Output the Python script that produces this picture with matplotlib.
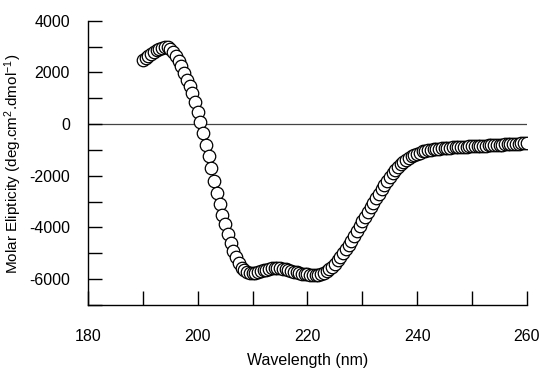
import numpy as np
import matplotlib
matplotlib.use("Agg")
import matplotlib.pyplot as plt
from matplotlib.ticker import MultipleLocator

plt.rcParams["font.family"] = ["Liberation Sans", "DejaVu Sans"]
plt.rcParams["axes.unicode_minus"] = False
plt.rcParams["mathtext.default"] = "regular"

# CD spectrum, 0.5 nm steps from 190 to 260 nm
wavelength = np.arange(190.0, 260.01, 0.5)
ellipticity = [
    2480, 2560, 2640, 2710, 2780, 2850, 2910, 2960, 2990, 2970,          # 190.0 - 194.5
    2900, 2790, 2640, 2450, 2230, 1980, 1700, 1480, 1200, 850,           # 195.0 - 199.5
    480, 90, -350, -800, -1250, -1700, -2200, -2680, -3110, -3500,       # 200.0 - 204.5
    -3880, -4250, -4590, -4900, -5160, -5390, -5560, -5660, -5720, -5750,  # 205.0 - 209.5
    -5760, -5750, -5720, -5690, -5660, -5630, -5600, -5580, -5570, -5570,  # 210.0 - 214.5
    -5580, -5600, -5620, -5650, -5680, -5710, -5740, -5770, -5790, -5810,  # 215.0 - 219.5
    -5820, -5830, -5840, -5840, -5830, -5800, -5760, -5700, -5620, -5520,  # 220.0 - 224.5
    -5400, -5270, -5130, -4980, -4830, -4670, -4510, -4330, -4140, -3950,  # 225.0 - 229.5
    -3760, -3580, -3400, -3220, -3040, -2860, -2690, -2520, -2360, -2200,  # 230.0 - 234.5
    -2050, -1910, -1780, -1660, -1550, -1460, -1380, -1310, -1250, -1200,  # 235.0 - 239.5
    -1150, -1100, -1060, -1030, -1010, -990, -980, -965, -950, -940,      # 240.0 - 244.5
    -930, -920, -910, -900, -895, -888, -880, -875, -870, -865,           # 245.0 - 249.5
    -860, -855, -850, -845, -840, -835, -828, -822, -815, -810,           # 250.0 - 254.5
    -805, -798, -790, -785, -778, -770, -760, -755, -748, -742,           # 255.0 - 259.5
    -735,                                                                 # 260.0
]

fig = plt.figure(figsize=(5.41, 3.68), dpi=100)
ax = fig.add_axes([0.1627, 0.1712, 0.8113, 0.7726])

ax.axhline(0, color="#444444", lw=0.9, zorder=1)
ax.plot(wavelength, ellipticity, linestyle="none", marker="o", markersize=9.0,
        markerfacecolor="white", markeredgecolor="black", markeredgewidth=0.9, zorder=2)

ax.set_xlim(180, 260)
ax.set_ylim(-7000, 4000)
ax.xaxis.set_major_locator(MultipleLocator(20))
ax.xaxis.set_minor_locator(MultipleLocator(10))
ax.yaxis.set_major_locator(MultipleLocator(2000))
ax.yaxis.set_minor_locator(MultipleLocator(1000))

for side in ["top", "right"]:
    ax.spines[side].set_visible(False)
for side in ["left", "bottom"]:
    ax.spines[side].set_linewidth(1.0)

ax.tick_params(axis="both", which="both", direction="in", length=10, width=1.0)
ax.tick_params(axis="x", which="major", pad=17, labelsize=11.5)
ax.tick_params(axis="y", which="major", pad=13, labelsize=11.5)

ax.set_xlabel("Wavelength (nm)", fontsize=11.5)
ax.set_ylabel("Molar Elipticity (deg.cm$^{2}$.dmol$^{-1}$)", fontsize=11)
ax.xaxis.set_label_coords(0.5, -0.17)
ax.yaxis.set_label_coords(-0.145, 0.495)

fig.savefig("out.png", dpi=100)
